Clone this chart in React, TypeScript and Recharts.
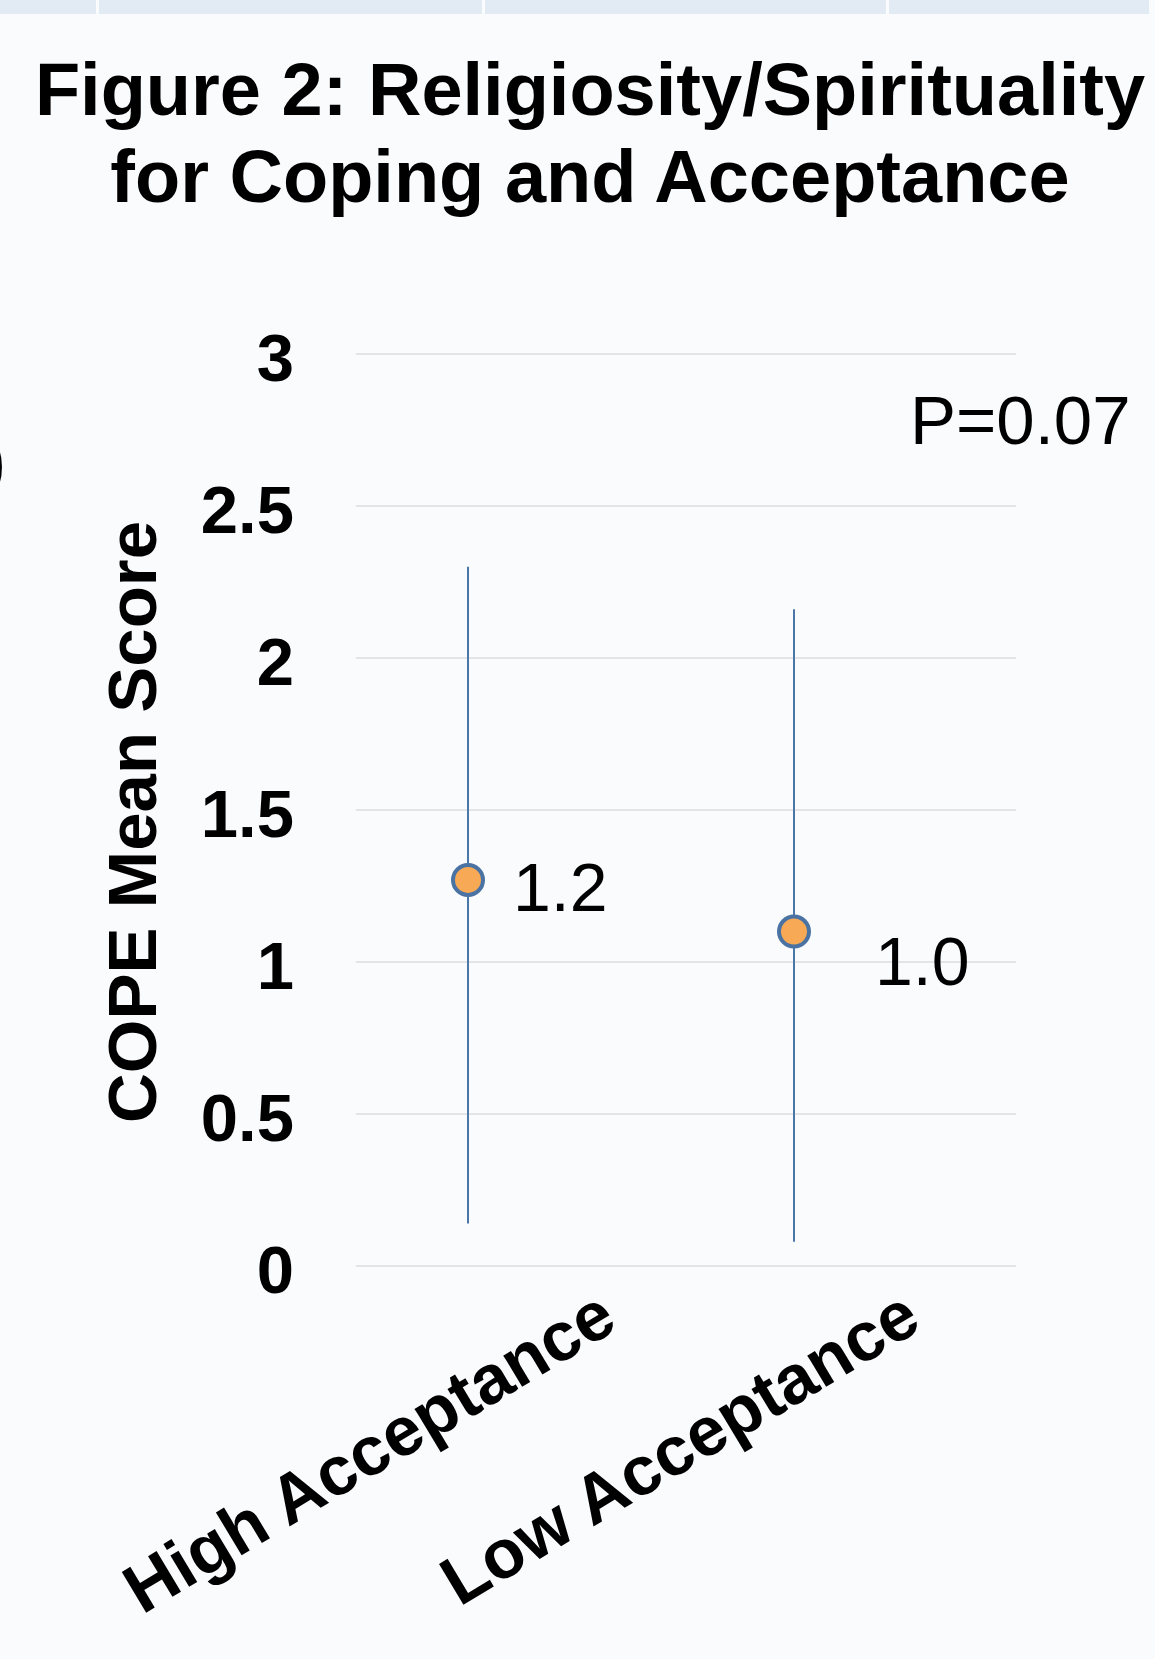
import React from "react";
import { ScatterChart, Scatter, XAxis, YAxis, CartesianGrid, ErrorBar } from "recharts";

const categories = ["High Acceptance", "Low Acceptance"];
const means = [1.27, 1.1];
const upperBounds = [2.3, 2.16];
const lowerBounds = [0.14, 0.08];
const labelTexts = ["1.2", "1.0"];
const yTicks = [0, 0.5, 1, 1.5, 2, 2.5, 3];
const titleLines = ["Figure 2: Religiosity/Spirituality", "for Coping and Acceptance"];
const yAxisTitle = "COPE Mean Score";
const pValueText = "P=0.07";

const FONT = "'Liberation Sans', Arial, Helvetica, sans-serif";
const W = 1155;
const H = 1659;
const BG = "#f9fbfd";
const BAR_BLUE = "#4a76a8";
const DOT_FILL = "#f8a955";
const DOT_STROKE = "#4a73a3";
const LABEL_OFFSETS = [
  { dx: 45, dy: 31 },
  { dx: 81, dy: 53 },
];
const X_LABEL_DX = [152, 130];
const TOP_BAND = [
  [0, 96],
  [99, 482],
  [485, 886],
  [889, 1149],
];

const table = categories.map((c, i) => ({
  x: i,
  name: c,
  y: means[i],
  err: [means[i] - lowerBounds[i], upperBounds[i] - means[i]],
  label: labelTexts[i],
  idx: i,
}));

const Dot = (props: any) => {
  const { cx, cy, payload } = props;
  const off = LABEL_OFFSETS[payload.idx] || { dx: 45, dy: 31 };
  return (
    <g>
      <circle cx={cx} cy={cy} r={15} fill={DOT_FILL} stroke={DOT_STROKE} strokeWidth={4} />
      <text x={cx + off.dx} y={cy + off.dy} fontFamily={FONT} fontSize={68} fill="#000">
        {payload.label}
      </text>
    </g>
  );
};

const XTick = (props: any) => {
  const { x, y, payload } = props;
  const i = Math.round(payload.value);
  const name = categories[i] ?? "";
  const ex = x + (X_LABEL_DX[i] ?? 140);
  const ey = y + 62;
  return (
    <text
      x={ex}
      y={ey}
      textAnchor="end"
      fontFamily={FONT}
      fontWeight="bold"
      fontSize={69}
      fill="#000"
      transform={`rotate(-31, ${ex}, ${ey})`}
    >
      {name}
    </text>
  );
};

const YTick = (props: any) => {
  const { x, y, payload } = props;
  return (
    <text
      x={x}
      y={y}
      dy={27}
      textAnchor="end"
      fontFamily={FONT}
      fontWeight="bold"
      fontSize={67}
      fill="#000"
    >
      {String(payload.value)}
    </text>
  );
};

export default function App() {
  return (
    <div
      style={{
        position: "absolute",
        left: 0,
        top: 0,
        width: W,
        height: H,
        background: BG,
        overflow: "hidden",
        fontFamily: FONT,
      }}
    >
      <svg width={W} height={H} style={{ position: "absolute", left: 0, top: 0 }}>
        {TOP_BAND.map(([a, b], i) => (
          <rect key={i} x={a} y={0} width={b - a} height={14} fill="#e2eaf3" />
        ))}
        <text x={590} y={115} textAnchor="middle" fontFamily={FONT} fontWeight="bold" fontSize={74} fill="#000">
          {titleLines[0]}
        </text>
        <text x={590} y={202} textAnchor="middle" fontFamily={FONT} fontWeight="bold" fontSize={74} fill="#000">
          {titleLines[1]}
        </text>
        <text x={-17} y={484} fontFamily={FONT} fontWeight="bold" fontSize={67} fill="#000">
          )
        </text>
        <text
          x={156}
          y={822}
          textAnchor="middle"
          fontFamily={FONT}
          fontWeight="bold"
          fontSize={69}
          fill="#000"
          transform="rotate(-90, 156, 822)"
        >
          {yAxisTitle}
        </text>
        <text x={910} y={444} fontFamily={FONT} fontSize={69} fill="#000">
          {pValueText}
        </text>
      </svg>
      <div style={{ position: "absolute", left: 0, top: 0 }}>
        <ScatterChart width={W} height={H} margin={{ top: 354, right: 139, bottom: 0, left: 0 }}>
          <CartesianGrid vertical={false} stroke="#dcdcdc" strokeWidth={1.5} />
          <XAxis
            type="number"
            dataKey="x"
            domain={[-0.3436, 1.681]}
            ticks={[0, 1]}
            allowDataOverflow
            height={393}
            axisLine={false}
            tickLine={false}
            tickSize={0}
            tickMargin={0}
            tick={<XTick />}
            interval={0}
          />
          <YAxis
            type="number"
            dataKey="y"
            domain={[0, 3]}
            ticks={yTicks}
            width={356}
            axisLine={false}
            tickLine={false}
            tickSize={0}
            tickMargin={62}
            tick={<YTick />}
            interval={0}
          />
          <Scatter data={table} isAnimationActive={false} shape={<Dot />}>
            <ErrorBar dataKey="err" direction="y" width={0} stroke={BAR_BLUE} strokeWidth={2} />
          </Scatter>
        </ScatterChart>
      </div>
    </div>
  );
}
